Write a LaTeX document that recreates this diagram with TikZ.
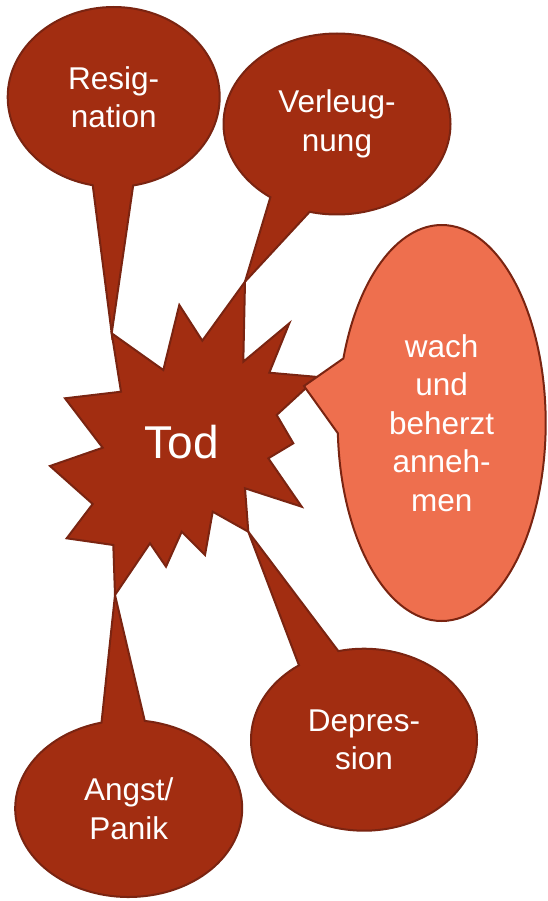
\documentclass[tikz,border=0pt]{standalone}
\usepackage{fontspec}
\setmainfont{Liberation Sans}
\usetikzlibrary{shapes.callouts}
\definecolor{rust}{HTML}{A22D11}
\definecolor{rustline}{HTML}{7A2411}
\definecolor{salmon}{HTML}{EE6F4E}
\tikzset{
	bubble/.style = {
		ellipse callout, draw=rustline, fill=rust, line width=2pt,
		text=white, inner sep=0pt, align=center, callout pointer arc=22,
		font=\fontsize{31.5}{38.5}\selectfont
	},
	burst/.style = {draw=rustline, fill=rust, line width=2pt, line join=miter}
}
\begin{document}
\begin{tikzpicture}[x=1pt, y=-1pt]
					\useasboundingbox (0,0) rectangle (547,901);
					\foreach \x/\y [count=\i] in {111.7/333.3,163.3/370,179.3/305,202.3/340.7,245/281.7,243.3/361.7,289.3/323.3,269.3/372.7,318/377,276.7/415,293.3/443.3,268.3/458.3,301.7/506.7,245/488.3,248.3/531.7,212.7/511.7,205/555,181.7/531.7,166/566.7,150/543.3,115/595,113.3/545,66.7/538.3,92.7/504,50/466,102.7/447.7,65/398.3,121/391.7}
						\coordinate (s\i) at (\x,\y);
					\coordinate (wtip) at (304,386);
					\foreach \nm/\pos/\w/\h/\tip/\txt in {res/{113.7,97}/212/180/s1/{Resig-\\nation},ver/{337,124}/227/181/s5/{Verleug-\\nung},dep/{364,739.7}/226/182/s15/{Depres-\\sion},ang/{128.7,808.5}/227/177/s21/{Angst/\\Panik}} {
						\node[bubble, minimum width=\w pt, minimum height=\h pt, callout absolute pointer={(\tip)}] (\nm) at (\pos) {\txt};
					}
					\draw[burst] (s1) \foreach \i in {2,...,28} { -- (s\i) } -- cycle;
					\node[text=white, font=\fontsize{46}{50}\selectfont] (tod) at (181.7,442) {Tod};
					\node[bubble, fill=salmon, minimum width=208pt, minimum height=396pt, callout absolute pointer={(wtip)}] (wach) at (441.7,423) {wach\\und\\beherzt\\anneh-\\men};
				\end{tikzpicture}
\end{document}
